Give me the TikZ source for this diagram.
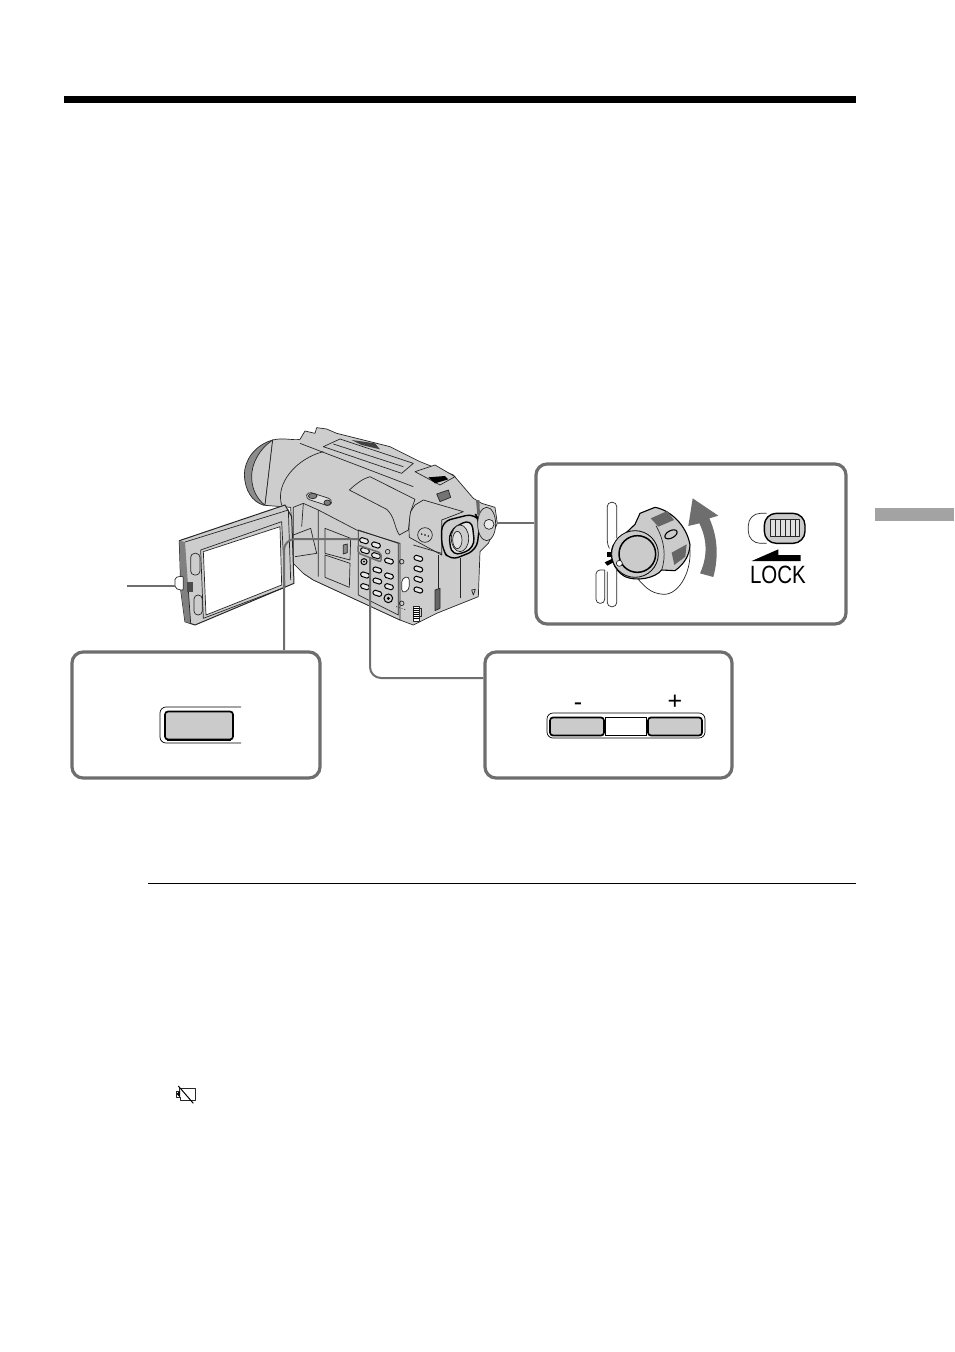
\documentclass[tikz,border=0pt]{standalone}
\usepackage{fontspec}
\setmainfont{Liberation Sans}
\usetikzlibrary{positioning}
\definecolor{framegray}{HTML}{6E6E6E}
\definecolor{keygray}{HTML}{CBCBCB}
\definecolor{bodygray}{HTML}{CDCDCD}
\definecolor{inkgray}{HTML}{262626}
\tikzset{
	callout/.style={draw=framegray,line width=3.2pt,rounded corners=11pt,fill=white,inner sep=0pt},
	calloutline/.style={draw=framegray,line width=2pt,rounded corners=11pt},
	keycap/.style={draw=black,line width=1.7pt,fill=keygray,rounded corners=3pt,inner sep=0pt},
	camline/.style={draw=inkgray,line width=0.7pt,line join=round},
	campart/.style={camline,fill=bodygray},
	camkey/.style={draw=black,line width=1pt,fill=white!55!keygray,rounded corners=1.5pt},
	bigtext/.style={font=\fontsize{25}{25}\selectfont,inner sep=0pt}
}
\begin{document}
\begin{tikzpicture}[x=1pt,y=-1pt]
	\useasboundingbox (0,0) rectangle (954,1352);
	% page rules
	\fill[black] (64,96) rectangle (856,103);
	\draw[black,line width=1pt] (148,883.5) -- (856,883.5);
	\fill[gray!72] (875,508) rectangle (954,521);
	% camera
	\begin{scope}[shift={(120,420)},scale=1/3]
		% lens ring
		\draw[camline,fill=black!45] (458,60) .. controls (405,75) and (373,120) .. (373,165) .. controls (375,210) and (395,245) .. (432,256) -- cycle;
		\draw[campart] (458,60) .. controls (420,85) and (393,130) .. (395,175) .. controls (397,210) and (410,235) .. (435,256) -- cycle;
		% body shell
		\draw[campart] (458,60) .. controls (490,52) and (520,62) .. (540,58) -- (555,33) -- (585,40) -- (590,23) -- (620,27) -- (650,40) -- (810,80) -- (900,125) -- (1000,165) -- (1060,235) -- (1085,250) -- (1125,262) -- (1132,310) -- (1105,370) -- (1080,395) -- (1075,530) -- (950,580) -- (880,615) -- (840,600) -- (580,480) -- (550,460) -- (520,430) -- (512,262) -- (435,256) -- cycle;
		\draw[camline] (610,95) .. controls (530,115) and (465,190) .. (485,255);
		\draw[camline] (540,70) -- (605,95) -- (880,200);
		\draw[campart] (610,80) -- (660,57) -- (880,130) -- (845,160) -- cycle;
		\draw[camline] (640,72) -- (850,140);
		\fill[black!75] (695,60) -- (765,70) -- (780,88) -- (725,75) -- cycle;
		% top switches
		\draw[campart] (885,155) -- (945,135) -- (1005,170) -- (960,195) -- cycle;
		\fill[black] (925,172) -- (975,168) -- (985,178) -- (945,190) -- cycle;
		\draw[camline,fill=black!55] (950,222) -- (985,210) -- (992,232) -- (960,245) -- cycle;
		% grip cover
		\draw[campart] (688,210) .. controls (710,190) and (730,175) .. (750,170) -- (885,238) -- (872,275) -- (865,330) -- (838,345) .. controls (822,320) and (825,290) .. (800,268) -- cycle;
		% finder
		\draw[campart] (872,275) -- (885,255) -- (910,240) -- (1030,275) -- (965,300) -- (965,405) -- (868,352) .. controls (866,325) and (868,295) .. (872,275) -- cycle;
		\draw[camline] (915,345) circle[radius=22];
		\fill[black] (905,342) circle[radius=2.5] (915,345) circle[radius=2.5] (925,348) circle[radius=2.5];
		\draw[camline] (955,405) -- (955,560) (1020,415) -- (1020,535);
		\draw[camline] (1055,510) -- (1066,508) -- (1060,525) -- cycle;
		\draw[camline,fill=black!60] (945,510) -- (960,505) -- (960,565) -- (945,572) -- cycle;
		% eyecup
		\draw[black,line width=1.4pt,fill=bodygray,rounded corners=9pt] (965,305) -- (1065,280) -- (1080,305) -- (1070,390) -- (990,422) -- (965,385) -- cycle;
		\draw[black,line width=1.4pt,fill=white!45!bodygray,rounded corners=10pt] (985,332) -- (1055,295) -- (1065,385) -- (995,410) -- cycle;
		\draw[camline,fill=bodygray] (1020,355) ellipse[x radius=26,y radius=40];
		\draw[camline,fill=white!40!bodygray] (1012,360) ellipse[x radius=14,y radius=26];
		% eyepiece knob
		\draw[camline,fill=bodygray] (1100,312) ellipse[x radius=27,y radius=50];
		\draw[camline,fill=white!60!bodygray] (1107,313) circle[radius=15];
		\fill[black!60] (1068,240) -- (1078,240) -- (1080,285) -- (1072,285) -- cycle;
		% label
		\draw[camline,fill=white!40!keygray,rotate around={-18:(597,237)},rounded corners=4pt] (558,226) rectangle (636,248);
		\draw[camline,fill=black!50] (578,228) ellipse[x radius=13,y radius=8] (622,248) ellipse[x radius=10,y radius=8];
		% recess and lid
		\draw[campart] (520,262) -- (550,250) -- (595,270) -- (710,330) -- (840,370) -- (840,600) -- (580,480) -- (550,460) -- (520,430) -- cycle;
		\draw[camline] (595,270) -- (595,470) (520,345) -- (572,325) -- (590,400) -- (525,410);
		\draw[camline] (550,250) -- (545,320);
		\draw[camline] (615,325) -- (692,355) -- (690,420) -- (615,400) -- cycle;
		\draw[camline] (615,405) -- (690,430) -- (688,502) -- (615,472) -- cycle;
		\draw[camline,fill=black!45] (670,375) -- (682,372) -- (682,398) -- (670,402) -- cycle;
		% key panel
		\draw[camline] (715,330) -- (835,370) -- (835,585) -- (715,525) -- cycle;
		\draw[camline] (880,375) -- (965,400);
		\foreach \x/\y in {732/362,768/375,735/392,768/407,807/423,772/450,735/465,772/483,807/468,807/500,735/500,772/520,895/415,895/447,895/478,895/510}
			\draw[camkey,shift={(\x,\y)},rotate=-18] (-13,-7) rectangle (13,7);
		\draw[black,line width=1pt] (732,425) circle[radius=9] (805,535) circle[radius=13];
		\fill[black] (732,425) circle[radius=3] (805,535) circle[radius=5];
		\draw[camline] (845,425) circle[radius=7] (845,550) circle[radius=7];
		\draw[camline,rounded corners=4pt,fill=white] (845,475) -- (868,468) -- (868,510) -- (845,520) -- cycle;
		\draw[camline] (803,395) circle[radius=7];
		\draw[camline,fill=white] (880,560) rectangle (898,603);
		\draw[camline] (898,565) rectangle (905,590);
		\foreach \y in {566,572,578,584,590,596}
			\draw[black,line width=1pt] (880,\y) -- (898,\y);
		\foreach \x in {830,838,846,854}
			\fill[black!70] (\x,{560+(\x-830)*0.35}) circle[radius=2];
		% monitor
		\draw[campart,line width=1pt] (178,362) -- (495,255) -- (515,290) -- (522,490) -- (225,615) -- (195,605) -- (183,515) -- cycle;
		\fill[black!50] (178,362) -- (195,366) -- (205,510) -- (212,610) -- (195,605) -- (183,515) -- cycle;
		\draw[camline] (195,366) -- (505,270) -- (512,480);
		\draw[camline] (205,510) -- (212,610);
		\draw[camline] (242,390) -- (485,305) -- (495,502) -- (250,595) -- cycle;
		\draw[camline,fill=white] (250,395) -- (480,320) -- (485,495) -- (258,585) -- cycle;
		\draw[camline,rounded corners=4pt] (212,400) rectangle (240,465) (222,525) rectangle (247,585);
		\fill[black!70] (200,485) rectangle (220,515);
		\draw[camline,fill=white,rounded corners=2pt] (165,472) -- (190,468) -- (190,512) -- (165,505) -- cycle;
	\end{scope}
	% connector ends
	\coordinate (finderpin) at (497,523);
	\coordinate (latchpin) at (175,585.5);
	\coordinate (latchend) at (127,585.5);
	\coordinate (dispkey) at (358,539);
	\coordinate (zoomkey) at (370,557);
	\draw[framegray,line width=1.5pt,rounded corners=2pt] (358,545) -- (381,553) -- (381,562) -- (358,553) -- cycle;
	% callouts
	\node[callout,minimum width=248pt,minimum height=126pt] (leftbox) at (196,715) {};
	\node[callout,minimum width=247pt,minimum height=126pt] (rightbox) at (608.5,715) {};
	\node[callout,minimum width=310pt,minimum height=160pt] (dialbox) at (691,544) {};
	\path[calloutline] (latchend) edge (latchpin);
	\draw[calloutline] (finderpin) -- (finderpin -| dialbox.west);
	\draw[calloutline] (dispkey) -- (284,539) -- (284,650);
	\draw[calloutline] (zoomkey) -- (370,678) -- (rightbox.west |- 0,678);
	% left key
	\draw[black,line width=0.7pt,rounded corners=6pt] (241,707) -- (160,707) -- (160,743) -- (241,743);
	\node[keycap,minimum width=68pt,minimum height=28pt] (ejectkey) at (199,725.5) {};
	\draw[black,line width=1.2pt] (167,740) -- (231,740);
	% right keys
	\draw[black,line width=0.7pt,rounded corners=6pt] (547,713) rectangle (705,738);
	\node[keycap,minimum width=54pt,minimum height=18pt] (minuskey) at (577,726.5) {};
	\node[draw=black,line width=0.8pt,fill=white,minimum width=41pt,minimum height=18pt,inner sep=0pt] (midkey) at (626,726.5) {};
	\node[keycap,minimum width=54pt,minimum height=18pt] (pluskey) at (675,726.5) {};
	\node[bigtext] (minuslabel) at (578,707) {-};
	\node[bigtext] (pluslabel) at (675,702) {+};
	% dial
	\begin{scope}[shift={(530,455)},scale=1/3]
		\draw[camline,rounded corners=4pt] (238,280) -- (232,270) -- (232,142) -- (260,142) -- (260,250);
		\draw[camline,rounded corners=4pt] (224,345) -- (198,345) -- (198,445) -- (224,445) -- (224,345);
		\draw[camline,rounded corners=4pt] (232,350) -- (232,455) -- (260,455) -- (260,345);
		\fill[black] (232,290) rectangle (245,305);
		\fill[black] (224,322) -- (245,312) -- (250,322) -- (232,332) -- cycle;
		\draw[camline] (478,270) .. controls (490,340) and (450,420) .. (400,418) .. controls (360,415) and (345,395) .. (320,368);
		\draw[black,line width=1.1pt,fill=keygray] (250,270) -- (315,208) -- (330,175) -- (375,157) .. controls (420,165) and (470,210) .. (480,270) .. controls (478,300) and (465,325) .. (435,347) -- (395,345) .. controls (375,370) and (320,380) .. (285,365) .. controls (250,345) and (235,300) .. (250,270) -- cycle;
		\fill[black!60] (362,190) -- (412,168) -- (432,195) -- (385,215) -- cycle;
		\fill[black!60] (425,293) -- (470,268) -- (466,305) -- (433,330) -- cycle;
		\draw[camline] (378,212) .. controls (405,260) and (408,305) .. (395,345);
		\draw[black,line width=1.1pt,fill=keygray,rotate around={28:(423,238)}] (423,238) ellipse[x radius=20,y radius=11];
		\draw[black,line width=0.8pt,fill=keygray] (315,297) circle[radius=70];
		\draw[black,line width=1.5pt,fill=keygray] (322,297) circle[radius=55];
		\draw[camline,fill=white] (268,325) circle[radius=9];
		% turn arrow
		\fill[framegray] (510,355) .. controls (535,300) and (530,250) .. (508,205) -- (475,213) -- (488,130) -- (565,182) -- (538,190) .. controls (565,250) and (565,310) .. (550,366) -- cycle;
		% lock switch
		\draw[camline,rounded corners=12pt] (710,175) -- (655,175) -- (655,265) -- (710,265);
		\draw[black,line width=1.4pt,fill=keygray,rounded corners=12pt] (703,175) rectangle (825,265);
		\draw[camline,fill=white!40!keygray] (720,192) rectangle (808,245);
		\foreach \x in {735,750,765,780,795}
			\draw[inkgray,line width=0.6pt] (\x,192) -- (\x,245);
		\fill[black] (665,318) -- (745,283) -- (745,300) -- (812,300) -- (812,318) -- cycle;
	\end{scope}
	\node[bigtext,xscale=0.82] (locklabel) at (778,574.5) {LOCK};
	% battery mark
	\begin{scope}[shift={(160,1080)},scale=1/3]
		\draw[camline,line width=0.9pt] (57,25) -- (105,25) -- (105,62) -- (60,62) -- (60,52) -- (50,52) -- (50,35) -- (57,35) -- cycle;
		\draw[black,line width=1pt] (55,18) -- (100,70);
		\fill[black] (50,42) -- (60,32) -- (60,52) -- cycle;
	\end{scope}
\end{tikzpicture}
\end{document}
